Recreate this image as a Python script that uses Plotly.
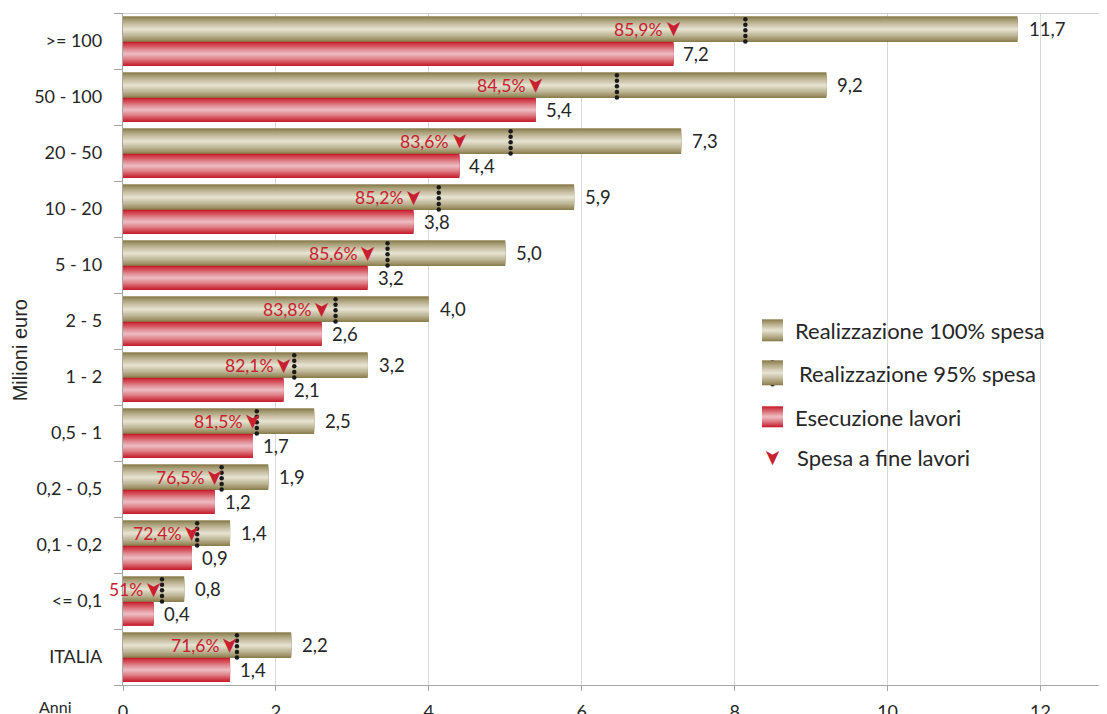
import plotly.graph_objects as go

# ---------------- data ----------------
categories = [">= 100", "50 - 100", "20 - 50", "10 - 20", "5 - 10", "2 - 5",
              "1 - 2", "0,5 - 1", "0,2 - 0,5", "0,1 - 0,2", "<= 0,1", "ITALIA"]
real100 = [11.7, 9.2, 7.3, 5.9, 5.0, 4.0, 3.2, 2.5, 1.9, 1.4, 0.8, 2.2]
real95 = [8.14, 6.46, 5.07, 4.13, 3.46, 2.78, 2.24, 1.75, 1.29, 0.97, 0.51, 1.49]
esecuzione = [7.2, 5.4, 4.4, 3.8, 3.2, 2.6, 2.1, 1.7, 1.2, 0.9, 0.4, 1.4]
spesa_pct = ["85,9%", "84,5%", "83,6%", "85,2%", "85,6%", "83,8%",
             "82,1%", "81,5%", "76,5%", "72,4%", "51%", "71,6%"]
legend_labels = ["Realizzazione 100% spesa", "Realizzazione 95% spesa",
                 "Esecuzione lavori", "Spesa a fine lavori"]

# ---------------- style ----------------
FONT = "Lato"
TXT = "#262626"
RED = "#c8202f"
GOLD_EDGE = (140, 127, 78)
GOLD_CENTER = (228, 224, 206)
RED_EDGE = (200, 30, 45)
RED_CENTER = (236, 184, 189)
N_LAYERS = 10
GOLD_OFF, GOLD_W = -0.21, 0.46
RED_OFF, RED_W = 0.23, 0.43
DOT_OFFS = [-0.39, -0.29, -0.19, -0.09, 0.01]
ARROW = "\u27a4"
ARROW_SIZE = 21

# page offset (body margin) and pixel frame of the plot area in screenshot coords
PAGE = 8
W, H = 1107, 714
L, R, T, B = 123, 1107, 12.7, 684.7


def px(x):
    return (x - L) / (R - L)


def py(y):
    return (B - y) / (B - T)


def lerp(c1, c2, t):
    return "rgb(%d,%d,%d)" % tuple(round(a + (b - a) * t) for a, b in zip(c1, c2))


def fmt(v):
    return ("%.1f" % v).replace(".", ",")


fig = go.Figure()
ypos = list(range(len(categories)))

# gradient bars built from stacked overlay bars
for k in range(N_LAYERS):
    frac = 1 - k / N_LAYERS
    t = (k / (N_LAYERS - 1)) ** 0.9
    fig.add_trace(go.Bar(
        x=real100, y=[i + GOLD_OFF for i in ypos], orientation="h",
        width=GOLD_W * frac, marker=dict(color=lerp(GOLD_EDGE, GOLD_CENTER, t), line_width=0),
        showlegend=False, hoverinfo="skip"))
    fig.add_trace(go.Bar(
        x=esecuzione, y=[i + RED_OFF for i in ypos], orientation="h",
        width=RED_W * frac, marker=dict(color=lerp(RED_EDGE, RED_CENTER, t), line_width=0),
        showlegend=False, hoverinfo="skip"))

# 95% dotted markers
dx, dy = [], []
for i, v in zip(ypos, real95):
    for o in DOT_OFFS:
        dx.append(v)
        dy.append(i + o)
fig.add_trace(go.Scatter(x=dx, y=dy, mode="markers",
                         marker=dict(symbol="circle", size=4.5, color="#1a1a1a"),
                         showlegend=False, hoverinfo="skip"))

ann = []
for i in ypos:
    # spesa a fine lavori arrowhead
    ann.append(dict(x=esecuzione[i], y=i + GOLD_OFF, text=ARROW, xref="x", yref="y",
                    xanchor="center", yanchor="middle", textangle=90, showarrow=False,
                    font=dict(family="DejaVu Sans", size=ARROW_SIZE, color=RED)))
    ann.append(dict(x=esecuzione[i], y=i + GOLD_OFF, text=spesa_pct[i], xref="x", yref="y",
                    xanchor="right", yanchor="middle", xshift=-9, showarrow=False,
                    font=dict(family=FONT, size=17.5, color=RED)))
    ann.append(dict(x=real100[i], y=i + GOLD_OFF, text=fmt(real100[i]), xref="x", yref="y",
                    xanchor="left", yanchor="middle", xshift=9, showarrow=False,
                    font=dict(family=FONT, size=18.5, color=TXT)))
    ann.append(dict(x=esecuzione[i], y=i + RED_OFF, text=fmt(esecuzione[i]), xref="x", yref="y",
                    xanchor="left", yanchor="middle", xshift=8, showarrow=False,
                    font=dict(family=FONT, size=18.5, color=TXT)))

# ---------------- manual legend (pixel -> paper) ----------------
shapes = []
shapes.append(dict(type="line", xref="paper", yref="y", x0=0, x1=1, y0=-0.5, y1=-0.5,
                   line=dict(color="#bfbfbf", width=1.3)))


def grad_square(x0, x1, y0, y1, edge, center):
    h = y1 - y0
    cy = (y0 + y1) / 2
    for k in range(N_LAYERS):
        frac = 1 - k / N_LAYERS
        t = (k / (N_LAYERS - 1)) ** 0.9
        shapes.append(dict(type="rect", xref="paper", yref="paper", x0=px(x0), x1=px(x1),
                           y0=py(cy - h * frac / 2), y1=py(cy + h * frac / 2),
                           fillcolor=lerp(edge, center, t), line_width=0, layer="above"))


leg_y = [330, 373, 417, 457]
leg_tx = [793, 797, 793, 795]
grad_square(762, 783, 319, 341, GOLD_EDGE, GOLD_CENTER)
grad_square(762, 783, 360, 385, GOLD_EDGE, GOLD_CENTER)
grad_square(762, 783, 406, 427, RED_EDGE, RED_CENTER)

fig.add_trace(go.Scatter(x=[772.5] * 5, y=[362, 367.5, 373, 378.5, 384], xaxis="x2", yaxis="y2",
                         mode="markers", marker=dict(size=4.5, color="#1a1a1a"),
                         showlegend=False, hoverinfo="skip"))
ann.append(dict(x=px(772.5), y=py(457), xref="paper", yref="paper", text=ARROW, textangle=90,
                xanchor="center", yanchor="middle", showarrow=False,
                font=dict(family="DejaVu Sans", size=ARROW_SIZE, color=RED)))

for lab, yy, xx in zip(legend_labels, leg_y, leg_tx):
    ann.append(dict(x=px(xx), y=py(yy), xref="paper", yref="paper", text=lab, xanchor="left",
                    yanchor="middle", showarrow=False,
                    font=dict(family=FONT, size=22, color=TXT)))

ann.append(dict(x=px(20), y=py(350), xref="paper", yref="paper", text="Milioni euro",
                textangle=-90, showarrow=False, xanchor="center", yanchor="middle",
                font=dict(family="Liberation Sans", size=20, color=TXT)))
ann.append(dict(x=px(55), y=py(706), xref="paper", yref="paper", text="Anni", showarrow=False,
                xanchor="center", yanchor="middle",
                font=dict(family=FONT, size=16, color=TXT)))

fig.update_layout(
    width=W - PAGE, height=H - PAGE,
    margin=dict(l=L - PAGE, r=W - R, t=T - PAGE, b=H - B, autoexpand=False),
    paper_bgcolor="white", plot_bgcolor="white",
    barmode="overlay", separators=",.",
    font=dict(family=FONT, color=TXT),
    xaxis=dict(range=[0, 12.87], dtick=2, showgrid=True, gridcolor="#d9d9d9", gridwidth=1,
               showline=True, linecolor="#a6a6a6", linewidth=1.3, zeroline=False,
               ticks="outside", ticklen=5, tickcolor="#a6a6a6",
               ticklabelstandoff=5, tickfont=dict(family=FONT, size=18, color=TXT)),
    yaxis=dict(range=[11.5, -0.5], tickmode="array", tickvals=ypos, ticktext=categories,
               ticks="", showgrid=False, zeroline=False, showline=True,
               linecolor="#a6a6a6", linewidth=1.3,
               ticklabelstandoff=16, tickfont=dict(family=FONT, size=18, color=TXT),
               minor=dict(tickmode="array", tickvals=[i - 0.5 for i in range(len(categories) + 1)],
                          ticks="outside", ticklen=8, tickcolor="#a6a6a6", showgrid=False)),
    xaxis2=dict(overlaying="x", range=[L, R], visible=False, fixedrange=True),
    yaxis2=dict(overlaying="y", range=[B, T], visible=False, fixedrange=True),
    shapes=shapes, annotations=ann, showlegend=False,
)

fig.write_html("out.html")
